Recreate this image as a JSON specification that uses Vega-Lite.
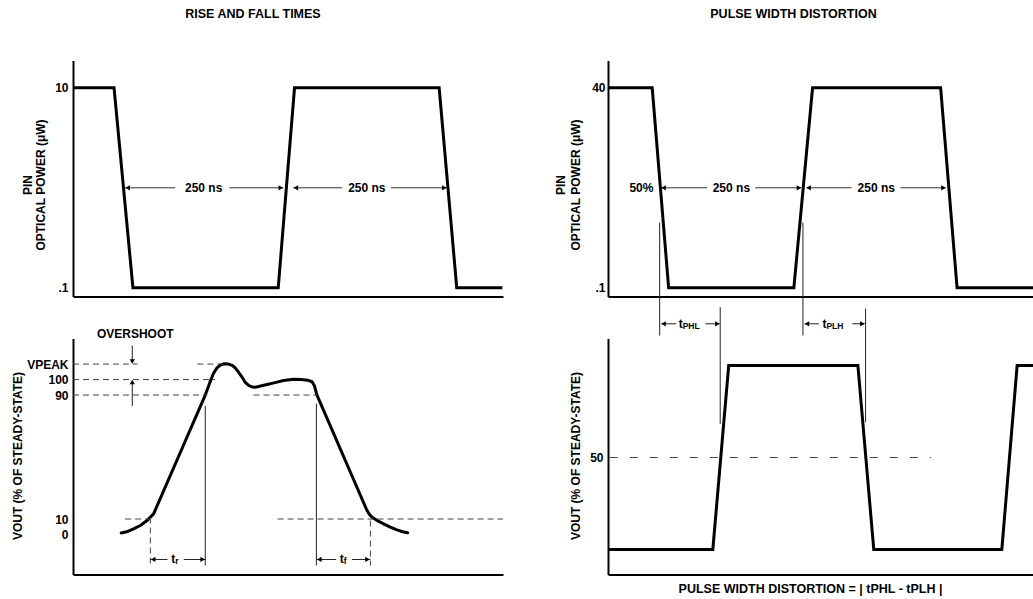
{
  "$schema": "https://vega.github.io/schema/vega-lite/v6.json",
  "autosize": {"type": "pad"},
  "padding": {"left": 10, "top": 7.5, "right": 0, "bottom": 5},
  "background": "white",
  "columns": 2,
  "spacing": {"row": 42, "column": 105},
  "bounds": "flush",
  "concat": [
    {
      "width": 430,
      "height": 236,
      "title": {"text": "RISE AND FALL TIMES", "anchor": "middle", "dx": -35, "offset": 30, "baseline": "alphabetic", "fontSize": 12.5, "fontWeight": "bold", "font": "Liberation Sans", "color": "#000"},
      "encoding": {
        "x": {"field": "t", "type": "quantitative", "scale": {"domain": [0, 660], "nice": false, "zero": false}, "axis": {"labels": false, "title": null, "ticks": false}},
        "y": {"field": "v", "type": "quantitative", "scale": {"type": "log", "domain": [0.0818, 18.75], "nice": false}, "axis": {"values": [0.1, 10], "labelExpr": "datum.value < 1 ? '.1' : '10'", "title": ["PIN", "OPTICAL POWER (μW)"], "titleX": -46, "titleY": 124, "titleAngle": -90, "titleAlign": "center", "titleBaseline": "middle", "titleLineHeight": 13}}
      },
      "layer": [
        {"data": {"values": [{"t": 0, "v": 10}, {"t": 63, "v": 10}, {"t": 92, "v": 0.1}, {"t": 315, "v": 0.1}, {"t": 340, "v": 10}, {"t": 562, "v": 10}, {"t": 589, "v": 0.1}, {"t": 659, "v": 0.1}]},
         "mark": {"type": "line", "color": "#000", "strokeWidth": 3, "strokeJoin": "miter"}},
        {"data": {"values": [{"t": 80, "t2": 157, "v": 1, "v2": 1}, {"t": 240, "t2": 323, "v": 1, "v2": 1}, {"t": 338, "t2": 413, "v": 1, "v2": 1}, {"t": 488, "t2": 574, "v": 1, "v2": 1}]},
         "mark": {"type": "rule", "color": "#333", "strokeWidth": 1},
         "encoding": {"x2": {"field": "t2"}, "y2": {"field": "v2"}}},
        {"data": {"values": [{"t": 84, "v": 1, "dir": "left"}, {"t": 319, "v": 1, "dir": "right"}, {"t": 342, "v": 1, "dir": "left"}, {"t": 570, "v": 1, "dir": "right"}]},
         "mark": {"type": "point", "filled": true, "color": "#000", "size": 28, "opacity": 1},
         "encoding": {"shape": {"field": "dir", "type": "nominal", "scale": {"domain": ["left", "right", "up", "down"], "range": ["triangle-left", "triangle-right", "triangle-up", "triangle-down"]}, "legend": null}}},
        {"data": {"values": [{"t": 200.5, "v": 1, "label": "250 ns"}, {"t": 451, "v": 1, "label": "250 ns"}]},
         "mark": {"type": "text", "font": "Liberation Sans", "fontWeight": "bold", "fontSize": 12, "color": "#000", "align": "center", "baseline": "middle"},
         "encoding": {"text": {"field": "label"}}}
      ]
    },
    {
      "width": 425,
      "height": 236,
      "title": {"text": "PULSE WIDTH DISTORTION", "anchor": "middle", "dx": -27, "offset": 30, "baseline": "alphabetic", "fontSize": 12.5, "fontWeight": "bold", "font": "Liberation Sans", "color": "#000"},
      "encoding": {
        "x": {"field": "t", "type": "quantitative", "scale": {"domain": [0, 750], "nice": false, "zero": false}, "axis": {"labels": false, "title": null, "ticks": false}},
        "y": {"field": "v", "type": "quantitative", "scale": {"type": "log", "domain": [0.077, 90.6], "nice": false}, "axis": {"values": [0.1, 40], "labelExpr": "datum.value < 1 ? '.1' : '40'", "labelPadding": 3, "title": ["PIN", "OPTICAL POWER (μW)"], "titleX": -48, "titleY": 124, "titleAngle": -90, "titleAlign": "center", "titleBaseline": "middle", "titleLineHeight": 15}}
      },
      "layer": [
        {"data": {"values": [{"t": 0, "v": 40}, {"t": 78, "v": 40}, {"t": 107, "v": 0.1}, {"t": 328, "v": 0.1}, {"t": 361, "v": 40}, {"t": 587, "v": 40}, {"t": 616, "v": 0.1}, {"t": 750, "v": 0.1}]},
         "mark": {"type": "line", "color": "#000", "strokeWidth": 3, "strokeJoin": "miter"}},
        {"data": {"values": [{"t": 94, "t2": 175, "v": 2, "v2": 2}, {"t": 260, "t2": 341, "v": 2, "v2": 2}, {"t": 350, "t2": 430, "v": 2, "v2": 2}, {"t": 516, "t2": 596, "v": 2, "v2": 2}]},
         "mark": {"type": "rule", "color": "#333", "strokeWidth": 1},
         "encoding": {"x2": {"field": "t2"}, "y2": {"field": "v2"}}},
        {"data": {"values": [{"t": 98, "v": 2, "dir": "left"}, {"t": 337, "v": 2, "dir": "right"}, {"t": 354, "v": 2, "dir": "left"}, {"t": 592, "v": 2, "dir": "right"}]},
         "mark": {"type": "point", "filled": true, "color": "#000", "size": 28, "opacity": 1},
         "encoding": {"shape": {"field": "dir", "type": "nominal", "scale": {"domain": ["left", "right", "up", "down"], "range": ["triangle-left", "triangle-right", "triangle-up", "triangle-down"]}, "legend": null}}},
        {"data": {"values": [{"t": 217.7, "v": 2, "label": "250 ns"}, {"t": 473.4, "v": 2, "label": "250 ns"}, {"t": 59, "v": 2, "label": "50%"}]},
         "mark": {"type": "text", "font": "Liberation Sans", "fontWeight": "bold", "fontSize": 12, "color": "#000", "align": "center", "baseline": "middle"},
         "encoding": {"text": {"field": "label"}}}
      ]
    },
    {
      "width": 430,
      "height": 236,
      "encoding": {
        "x": {"field": "t", "type": "quantitative", "scale": {"domain": [0, 660], "nice": false, "zero": false}, "axis": {"labels": false, "title": null, "ticks": false}},
        "y": {"field": "v", "type": "quantitative", "scale": {"domain": [-25.8, 126.5], "nice": false, "zero": false}, "axis": {"values": [0, 10, 90, 100, 110], "labelExpr": "datum.value == 110 ? 'VPEAK' : datum.label", "labelOverlap": false, "title": "VOUT (% OF STEADY-STATE)", "titleX": -56, "titleY": 117, "titleAngle": -90, "titleAlign": "center", "titleBaseline": "middle", "titleFontSize": 12}}
      },
      "layer": [
        {"data": {"values": [{"t": 74, "v": 1}, {"t": 84, "v": 2}, {"t": 93, "v": 3.7}, {"t": 104, "v": 6}, {"t": 113.6, "v": 9}, {"t": 123.7, "v": 13.3}, {"t": 203, "v": 90}, {"t": 210, "v": 98}, {"t": 215.8, "v": 104.2}, {"t": 221, "v": 107.5}, {"t": 226, "v": 109.3}, {"t": 232, "v": 110.2}, {"t": 238.8, "v": 110}, {"t": 244, "v": 109.2}, {"t": 249, "v": 107.6}, {"t": 254, "v": 104.8}, {"t": 259.4, "v": 101.6}, {"t": 264, "v": 98.4}, {"t": 269.6, "v": 96.2}, {"t": 275, "v": 95.2}, {"t": 279.8, "v": 95}, {"t": 288, "v": 95.8}, {"t": 297.8, "v": 96.8}, {"t": 310, "v": 98}, {"t": 323.3, "v": 99.4}, {"t": 338.6, "v": 100.2}, {"t": 350, "v": 100.1}, {"t": 360, "v": 99.6}, {"t": 366.9, "v": 98.6}, {"t": 370.5, "v": 96}, {"t": 374.5, "v": 90}, {"t": 451.3, "v": 15.5}, {"t": 455, "v": 13}, {"t": 459, "v": 11.2}, {"t": 467, "v": 9}, {"t": 476.8, "v": 6.9}, {"t": 487, "v": 4.8}, {"t": 497.3, "v": 3}, {"t": 506, "v": 1.8}, {"t": 513.6, "v": 1.1}]},
         "mark": {"type": "line", "color": "#000", "strokeWidth": 3, "strokeJoin": "round", "strokeCap": "round"}},
        {"data": {"values": [{"t": 0, "t2": 99, "v": 110, "v2": 110}, {"t": 191, "t2": 238, "v": 110, "v2": 110}, {"t": 0, "t2": 218, "v": 100, "v2": 100}, {"t": 0, "t2": 206, "v": 90, "v2": 90}, {"t": 277, "t2": 375, "v": 90, "v2": 90}, {"t": 80, "t2": 119, "v": 10, "v2": 10}, {"t": 314, "t2": 660, "v": 10, "v2": 10}, {"t": 118.7, "t2": 118.7, "v": 11, "v2": -20}, {"t": 456.5, "t2": 456.5, "v": 9, "v2": -20}]},
         "mark": {"type": "rule", "color": "#444", "strokeWidth": 1, "strokeDash": [6, 4]},
         "encoding": {"x2": {"field": "t2"}, "y2": {"field": "v2"}}},
        {"data": {"values": [{"t": 203, "t2": 203, "v": 83, "v2": -20}, {"t": 373.6, "t2": 373.6, "v": 84.5, "v2": -20}, {"t": 91, "t2": 91, "v": 122, "v2": 112}, {"t": 91, "t2": 91, "v": 83, "v2": 99}, {"t": 119, "t2": 145, "v": -16.1, "v2": -16.1}, {"t": 170, "t2": 203, "v": -16.1, "v2": -16.1}, {"t": 373.6, "t2": 404, "v": -16.1, "v2": -16.1}, {"t": 428, "t2": 456.5, "v": -16.1, "v2": -16.1}]},
         "mark": {"type": "rule", "color": "#222", "strokeWidth": 1},
         "encoding": {"x2": {"field": "t2"}, "y2": {"field": "v2"}}},
        {"data": {"values": [{"t": 123, "v": -16.1, "dir": "left"}, {"t": 199, "v": -16.1, "dir": "right"}, {"t": 378, "v": -16.1, "dir": "left"}, {"t": 452, "v": -16.1, "dir": "right"}, {"t": 91, "v": 111.6, "dir": "down"}, {"t": 91, "v": 98.4, "dir": "up"}]},
         "mark": {"type": "point", "filled": true, "color": "#000", "size": 28, "opacity": 1},
         "encoding": {"shape": {"field": "dir", "type": "nominal", "scale": {"domain": ["left", "right", "up", "down"], "range": ["triangle-left", "triangle-right", "triangle-up", "triangle-down"]}, "legend": null}}},
        {"data": {"values": [{"t": 95.6, "v": 129.7, "label": "OVERSHOOT"}]},
         "mark": {"type": "text", "font": "Liberation Sans", "fontWeight": "bold", "fontSize": 12, "color": "#000", "align": "center", "baseline": "middle"},
         "encoding": {"text": {"field": "label"}}},
        {"data": {"values": [{"t": 157, "v": -16.1, "label": "t"}, {"t": 415.4, "v": -16.1, "label": "t"}]},
         "mark": {"type": "text", "font": "Liberation Sans", "fontWeight": "bold", "fontSize": 12, "color": "#000", "align": "right", "baseline": "middle"},
         "encoding": {"text": {"field": "label"}}},
        {"data": {"values": [{"t": 157, "v": -16.1, "label": "r"}, {"t": 415.4, "v": -16.1, "label": "f"}]},
         "mark": {"type": "text", "font": "Liberation Sans", "fontWeight": "bold", "fontSize": 8.5, "color": "#000", "align": "left", "baseline": "middle", "dy": 2},
         "encoding": {"text": {"field": "label"}}}
      ]
    },
    {
      "width": 425,
      "height": 236,
      "encoding": {
        "x": {"field": "t", "type": "quantitative", "scale": {"domain": [0, 750], "nice": false, "zero": false}, "axis": {"labels": false, "ticks": false, "title": "PULSE WIDTH DISTORTION = | tPHL - tPLH |", "titleX": 202, "titleY": 14, "titleAlign": "center", "titleBaseline": "middle", "titleFontSize": 12.5}},
        "y": {"field": "v", "type": "quantitative", "scale": {"domain": [-13.6, 114.7], "nice": false, "zero": false}, "axis": {"values": [50], "title": "VOUT (% OF STEADY-STATE)", "titleX": -33, "titleY": 117, "titleAngle": -90, "titleAlign": "center", "titleBaseline": "middle", "titleFontSize": 12}}
      },
      "layer": [
        {"data": {"values": [{"t": 0, "v": 0}, {"t": 185, "v": 0}, {"t": 213, "v": 100}, {"t": 441, "v": 100}, {"t": 469, "v": 0}, {"t": 695, "v": 0}, {"t": 722, "v": 100}, {"t": 750, "v": 100}]},
         "mark": {"type": "line", "color": "#000", "strokeWidth": 3, "strokeJoin": "miter"}},
        {"data": {"values": [{"t": 3, "t2": 570, "v": 50, "v2": 50}]},
         "mark": {"type": "rule", "color": "#444", "strokeWidth": 1, "strokeDash": [8, 12]},
         "encoding": {"x2": {"field": "t2"}, "y2": {"field": "v2"}}},
        {"data": {"values": [{"t": 91.2, "t2": 91.2, "v": 177.7, "v2": 116.3}, {"t": 344, "t2": 344, "v": 177.7, "v2": 116.3}, {"t": 198, "t2": 198, "v": 131.7, "v2": 68.3}, {"t": 454.6, "t2": 454.6, "v": 131, "v2": 69.2}, {"t": 94, "t2": 120, "v": 122.7, "v2": 122.7}, {"t": 172, "t2": 197, "v": 122.7, "v2": 122.7}, {"t": 347, "t2": 372, "v": 122.7, "v2": 122.7}, {"t": 431, "t2": 453, "v": 122.7, "v2": 122.7}]},
         "mark": {"type": "rule", "color": "#222", "strokeWidth": 1},
         "encoding": {"x2": {"field": "t2"}, "y2": {"field": "v2"}}},
        {"data": {"values": [{"t": 98, "v": 122.7, "dir": "left"}, {"t": 193, "v": 122.7, "dir": "right"}, {"t": 351, "v": 122.7, "dir": "left"}, {"t": 449, "v": 122.7, "dir": "right"}]},
         "mark": {"type": "point", "filled": true, "color": "#000", "size": 28, "opacity": 1},
         "encoding": {"shape": {"field": "dir", "type": "nominal", "scale": {"domain": ["left", "right", "up", "down"], "range": ["triangle-left", "triangle-right", "triangle-up", "triangle-down"]}, "legend": null}}},
        {"data": {"values": [{"t": 131.8, "v": 122.7, "label": "t"}, {"t": 385.4, "v": 122.7, "label": "t"}]},
         "mark": {"type": "text", "font": "Liberation Sans", "fontWeight": "bold", "fontSize": 12, "color": "#000", "align": "right", "baseline": "middle"},
         "encoding": {"text": {"field": "label"}}},
        {"data": {"values": [{"t": 131.8, "v": 122.7, "label": "PHL"}, {"t": 385.4, "v": 122.7, "label": "PLH"}]},
         "mark": {"type": "text", "font": "Liberation Sans", "fontWeight": "bold", "fontSize": 8.5, "color": "#000", "align": "left", "baseline": "middle", "dy": 2},
         "encoding": {"text": {"field": "label"}}}
      ]
    }
  ],
  "config": {
    "view": {"stroke": null},
    "font": "Liberation Sans",
    "axis": {"domainColor": "#000", "domainWidth": 2, "ticks": false, "grid": false, "labelFont": "Liberation Sans", "labelFontWeight": "bold", "labelFontSize": 12, "labelColor": "#000", "labelPadding": 5, "labelBound": false, "labelFlush": false, "titleFont": "Liberation Sans", "titleFontWeight": "bold", "titleFontSize": 12, "titleColor": "#000"}
  }
}
